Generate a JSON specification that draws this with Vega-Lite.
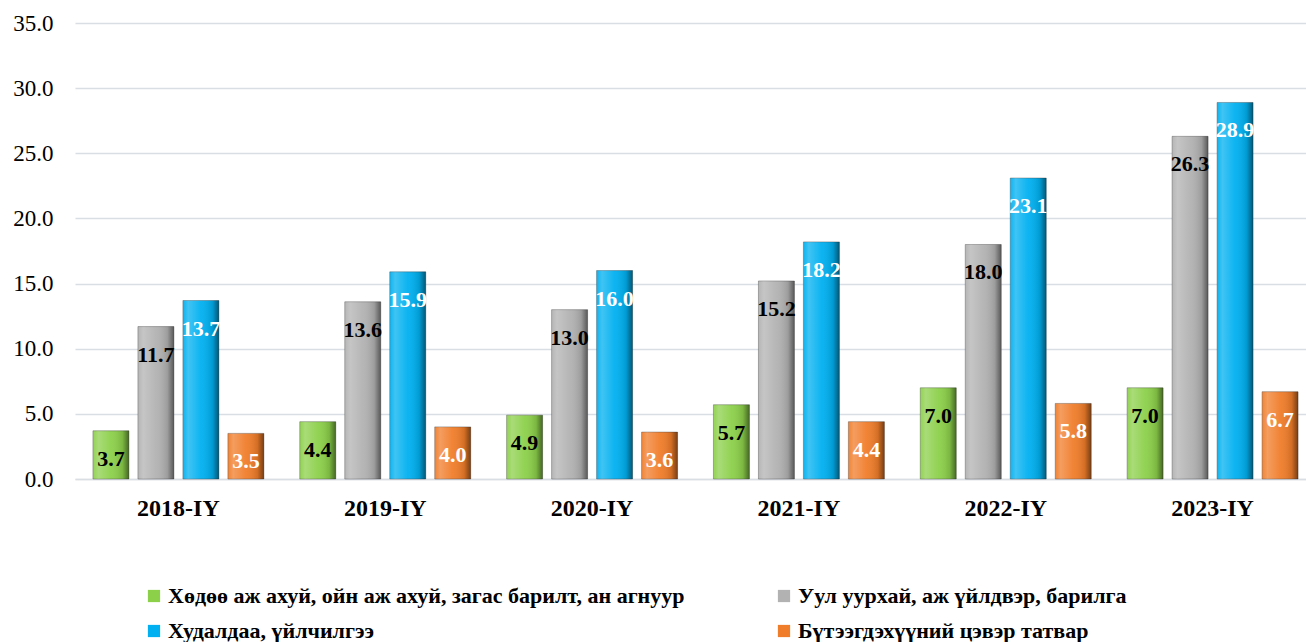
{
  "$schema": "https://vega.github.io/schema/vega-lite/v6.json",
  "autosize": {"type": "none"},
  "padding": {"left": 75, "top": 23, "right": 0, "bottom": 163},
  "width": 1241,
  "height": 456,
  "background": "white",
  "config": {"view": {"stroke": null}},
  "data": {
    "values": [
      {"year": "2018-IY", "cat": "Хөдөө аж ахуй, ойн аж ахуй, загас барилт, ан агнуур", "value": 3.7},
      {"year": "2018-IY", "cat": "Уул уурхай, аж үйлдвэр, барилга", "value": 11.7},
      {"year": "2018-IY", "cat": "Худалдаа, үйлчилгээ", "value": 13.7},
      {"year": "2018-IY", "cat": "Бүтээгдэхүүний цэвэр татвар", "value": 3.5},
      {"year": "2019-IY", "cat": "Хөдөө аж ахуй, ойн аж ахуй, загас барилт, ан агнуур", "value": 4.4},
      {"year": "2019-IY", "cat": "Уул уурхай, аж үйлдвэр, барилга", "value": 13.6},
      {"year": "2019-IY", "cat": "Худалдаа, үйлчилгээ", "value": 15.9},
      {"year": "2019-IY", "cat": "Бүтээгдэхүүний цэвэр татвар", "value": 4.0},
      {"year": "2020-IY", "cat": "Хөдөө аж ахуй, ойн аж ахуй, загас барилт, ан агнуур", "value": 4.9},
      {"year": "2020-IY", "cat": "Уул уурхай, аж үйлдвэр, барилга", "value": 13.0},
      {"year": "2020-IY", "cat": "Худалдаа, үйлчилгээ", "value": 16.0},
      {"year": "2020-IY", "cat": "Бүтээгдэхүүний цэвэр татвар", "value": 3.6},
      {"year": "2021-IY", "cat": "Хөдөө аж ахуй, ойн аж ахуй, загас барилт, ан агнуур", "value": 5.7},
      {"year": "2021-IY", "cat": "Уул уурхай, аж үйлдвэр, барилга", "value": 15.2},
      {"year": "2021-IY", "cat": "Худалдаа, үйлчилгээ", "value": 18.2},
      {"year": "2021-IY", "cat": "Бүтээгдэхүүний цэвэр татвар", "value": 4.4},
      {"year": "2022-IY", "cat": "Хөдөө аж ахуй, ойн аж ахуй, загас барилт, ан агнуур", "value": 7.0},
      {"year": "2022-IY", "cat": "Уул уурхай, аж үйлдвэр, барилга", "value": 18.0},
      {"year": "2022-IY", "cat": "Худалдаа, үйлчилгээ", "value": 23.1},
      {"year": "2022-IY", "cat": "Бүтээгдэхүүний цэвэр татвар", "value": 5.8},
      {"year": "2023-IY", "cat": "Хөдөө аж ахуй, ойн аж ахуй, загас барилт, ан агнуур", "value": 7.0},
      {"year": "2023-IY", "cat": "Уул уурхай, аж үйлдвэр, барилга", "value": 26.3},
      {"year": "2023-IY", "cat": "Худалдаа, үйлчилгээ", "value": 28.9},
      {"year": "2023-IY", "cat": "Бүтээгдэхүүний цэвэр татвар", "value": 6.7}
    ]
  },
  "encoding": {
    "x": {
      "field": "year", "type": "nominal", "title": null,
      "scale": {"paddingInner": 0.13, "paddingOuter": 0.065},
      "axis": {
        "labelAngle": 0, "labelFont": "Liberation Serif", "labelFontWeight": "bold",
        "labelFontSize": 24, "labelColor": "#000000", "labelPadding": 17,
        "ticks": false, "domainColor": "#d9dde4", "domainWidth": 1.5
      }
    },
    "xOffset": {
      "field": "cat", "type": "nominal",
      "sort": ["Хөдөө аж ахуй, ойн аж ахуй, загас барилт, ан агнуур", "Уул уурхай, аж үйлдвэр, барилга", "Худалдаа, үйлчилгээ", "Бүтээгдэхүүний цэвэр татвар"],
      "scale": {"paddingInner": 0.2, "paddingOuter": 0.1}
    },
    "y": {
      "field": "value", "type": "quantitative", "title": null,
      "scale": {"domain": [0, 35], "nice": false},
      "axis": {
        "values": [0, 5, 10, 15, 20, 25, 30, 35], "format": ".1f",
        "labelFont": "Liberation Serif", "labelFontSize": 23, "labelColor": "#000000",
        "labelPadding": 22, "ticks": false, "domain": false,
        "gridColor": "#d9dde4", "gridWidth": 1.5
      }
    }
  },
  "layer": [
    {
      "mark": {"type": "bar", "stroke": "#444444", "strokeOpacity": 0.4, "strokeWidth": 1},
      "encoding": {
        "color": {
          "field": "cat", "type": "nominal",
          "sort": ["Хөдөө аж ахуй, ойн аж ахуй, загас барилт, ан агнуур", "Уул уурхай, аж үйлдвэр, барилга", "Худалдаа, үйлчилгээ", "Бүтээгдэхүүний цэвэр татвар"],
          "scale": {
            "domain": ["Хөдөө аж ахуй, ойн аж ахуй, загас барилт, ан агнуур", "Уул уурхай, аж үйлдвэр, барилга", "Худалдаа, үйлчилгээ", "Бүтээгдэхүүний цэвэр татвар"],
            "range": ["#8cd04a", "#b2b2b2", "#00b0f0", "#f07d2a"]
          },
          "legend": {
            "title": null, "orient": "none", "legendX": 68, "legendY": 562,
            "direction": "horizontal", "columns": 2, "columnPadding": 88, "rowPadding": 13,
            "symbolType": "square", "symbolSize": 150, "symbolStrokeWidth": 0,
            "labelFont": "Liberation Serif", "labelFontWeight": "bold", "labelFontSize": 22,
            "labelColor": "#000000", "labelLimit": 800, "labelOffset": 3
          }
        }
      }
    },
    {
      "mark": {
        "type": "bar",
        "color": {
          "gradient": "linear", "x1": 0, "y1": 0, "x2": 1, "y2": 0,
          "stops": [
            {"offset": 0, "color": "rgba(255,255,255,0.05)"},
            {"offset": 0.15, "color": "rgba(255,255,255,0.25)"},
            {"offset": 0.5, "color": "rgba(255,255,255,0.05)"},
            {"offset": 0.82, "color": "rgba(0,0,0,0.12)"},
            {"offset": 1, "color": "rgba(0,0,0,0.5)"}
          ]
        }
      },
      "encoding": {}
    },
    {
      "mark": {"type": "text", "baseline": "middle", "dy": 28, "font": "Liberation Serif", "fontWeight": "bold", "fontSize": 22},
      "encoding": {
        "text": {"field": "value", "type": "quantitative", "format": ".1f"},
        "color": {
          "condition": {"test": "datum.cat === 'Худалдаа, үйлчилгээ' || datum.cat === 'Бүтээгдэхүүний цэвэр татвар'", "value": "#ffffff"},
          "value": "#000000"
        }
      }
    }
  ]
}
